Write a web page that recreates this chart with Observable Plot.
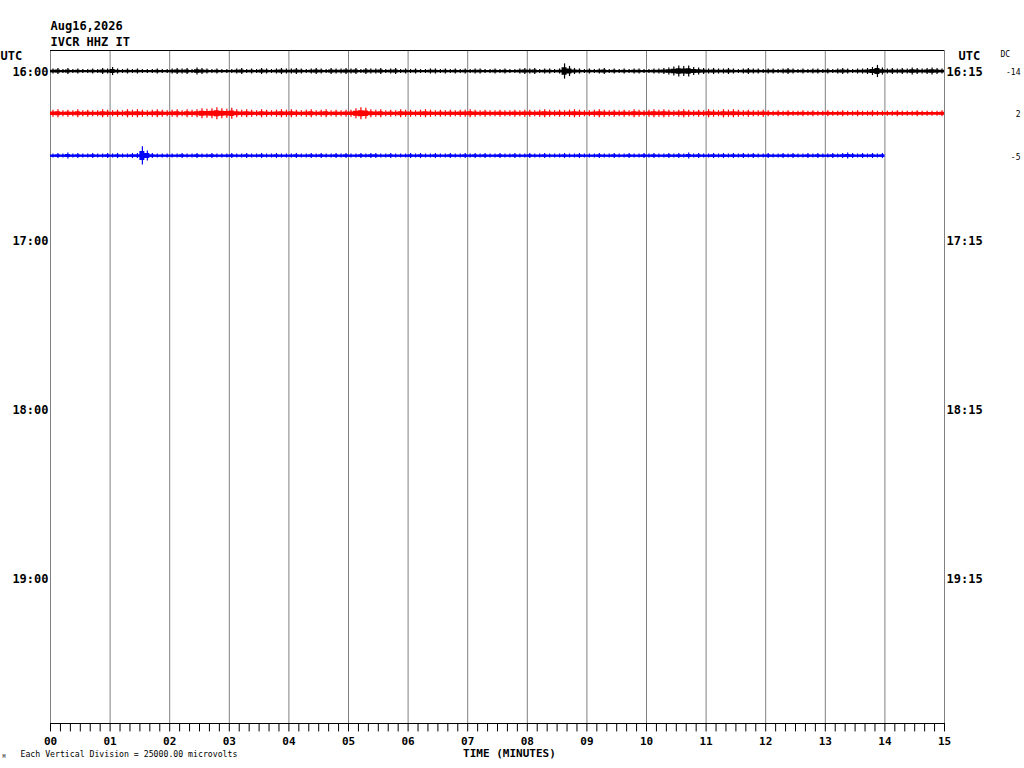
<!DOCTYPE html>
<html>
<head>
<meta charset="utf-8">
<script src="https://cdn.jsdelivr.net/npm/d3@7"></script>
<script src="https://cdn.jsdelivr.net/npm/@observablehq/plot@0.6"></script>
<style>
  html, body { margin: 0; padding: 0; background: #fff; }
  #chart { width: 1024px; height: 768px; }
</style>
</head>
<body>
<div id="chart"></div>
<script>
// ---- text / labels ----
const dateLabel = "Aug16,2026";
const stationLabel = "IVCR HHZ IT";
const minuteLabels = ["00","01","02","03","04","05","06","07","08","09","10","11","12","13","14","15"];
const hourRows = [0, 4, 8, 12];
const leftHourLabels = ["16:00", "17:00", "18:00", "19:00"];
const rightHourLabels = ["16:15", "17:15", "18:15", "19:15"];
const traceRows = [0, 1, 2];
const traceColors = ["#000000", "#ff0000", "#0000ff"];
const dcLabels = ["-14", "2", "-5"];
const divisionMicrovolts = 25000;
const binSeconds = 5;

// ---- trace envelopes: peak deflection (microvolts) per 5-second bin ----
const trace0 = [
  1500,1800,1200,1800,1200,1500,1200,1200,1500,1200,1800,1500,
  2400,1500,1200,1500,1200,1500,1200,1200,1200,1500,1200,1200,
  1500,1800,1500,1800,1200,2100,1800,1500,1200,1500,1200,1200,
  1200,1500,1800,1200,1500,1200,1800,1500,1200,1500,1800,1500,
  1500,1800,1500,1200,1500,1800,1500,1200,1800,1500,1500,1800,
  1500,1800,1200,1800,1500,1500,1800,1200,1500,1800,1200,1500,
  1200,1500,1200,1200,1500,1500,1200,1500,1200,1500,1200,1500,
  1200,1500,1500,1200,1200,1500,1200,1500,1200,1200,1500,1800,
  1500,1800,1200,1500,1500,1200,1500,4500,3000,1800,1500,1200,
  1500,1200,1500,1800,1200,1500,1200,1500,1200,1500,1500,1200,
  1200,1500,1500,1800,2100,2700,3300,3000,3300,2400,2100,1800,
  1500,1800,1500,1500,1800,1500,1200,1500,1800,1500,1500,1200,
  1500,1500,1200,1500,1800,1500,1200,1500,1200,1500,1500,1200,
  1500,1200,1500,1800,1500,1200,1500,1500,1800,2400,3600,2100,
  1500,1800,1500,1800,1500,2100,1800,1500,1800,2100,1800,1500
];
const trace1 = [
  2100,2400,1800,2100,1800,2400,1800,2100,1800,1800,2400,2100,
  1800,2100,1800,2400,2100,2400,2100,1800,2100,2400,2100,1800,
  2100,2400,1800,2400,2100,2400,3000,2700,3000,3600,3000,2700,
  3300,2400,2100,2400,2100,1800,2400,2100,1800,2100,2400,2100,
  2400,2100,1800,2100,2400,1800,2100,2400,1800,2100,1800,2100,
  2100,3000,3600,3300,2400,2100,2400,1800,2100,1800,2400,2100,
  2100,1800,2100,2400,2100,1800,2100,1800,2100,1800,2100,2100,
  2400,2100,1800,2100,1800,1800,2100,1800,1800,2100,1800,2100,
  2100,1800,2100,2400,2100,1800,2100,1800,2100,2400,2100,1800,
  1800,2100,2400,2100,1800,2100,1800,2100,1800,2400,2100,1800,
  2100,2400,2100,2400,2100,1800,2100,2400,2100,1800,2100,1800,
  2400,2100,1800,2400,2100,2400,2100,1800,2100,1800,1800,2100,
  1800,1500,1800,1500,1800,1500,1500,1800,1500,1800,1500,1500,
  1800,1500,1500,1800,1500,1500,1800,1500,1500,1800,1500,1500,
  1500,1500,1800,1500,1500,1500,1800,1500,1500,1500,1500,1800
];
const trace2 = [
  1200,1500,1200,1800,1200,1500,1200,1200,1500,1200,1200,1500,
  1200,1500,1200,1200,1500,1500,5400,3000,1500,1200,1200,1200,
  1200,1200,1500,1200,1200,1500,1200,1200,1500,1200,1200,1200,
  1500,1200,1200,1500,1200,1200,1500,1200,1200,1500,1200,1200,
  1200,1500,1200,1200,1500,1200,1500,1200,1200,1500,1200,1500,
  1200,1200,1500,1200,1500,1500,1200,1200,1500,1200,1200,1200,
  1500,1200,1500,1200,1200,1500,1200,1200,1500,1200,1200,1500,
  1200,1500,1200,1500,1200,1200,1500,1200,1200,1500,1200,1200,
  1500,1200,1200,1500,1200,1200,1200,1500,1200,1200,1500,1200,
  1200,1200,1500,1200,1200,1500,1200,1200,1500,1200,1200,1500,
  1200,1500,1200,1200,1500,1200,1500,1200,1800,1200,1500,1200,
  1200,1500,1200,1500,1200,1500,1200,1500,1200,1500,1200,1200,
  1500,1200,1200,1500,1200,1500,1200,1200,1500,1200,1500,1200,
  1200,1500,1200,1500,1800,1500,1200,1500,1200,1500,1200,1500
];
const traces = [trace0, trace1, trace2];

// ---- build tables ----
const minuteTicks = d3.range(0, 16);
const tenSecondTicks = d3.range(0, 15 * 6 + 1).map(i => i / 6);
const yTop = -0.497, yBottom = 15.432;

const bins = [];
const baselines = [];
traces.forEach((arr, k) => {
  const row = traceRows[k];
  arr.forEach((amp, i) => {
    bins.push({t: (i + 0.5) * binSeconds / 60, t0: i * binSeconds / 60, trace: k, row, amp, color: traceColors[k]});
  });
  // closing point so the step envelope covers the last bin
  bins.push({t: null, t0: arr.length * binSeconds / 60, trace: k, row, amp: arr[arr.length - 1], color: traceColors[k]});
  baselines.push({row, end: arr.length * binSeconds / 60, color: traceColors[k]});
});
const peaks = bins.filter(d => d.t !== null);

const mono = "'DejaVu Sans Mono', 'Liberation Mono', monospace";

const chart = Plot.plot({
  width: 1024,
  height: 768,
  marginLeft: 50,
  marginRight: 80,
  marginTop: 50,
  marginBottom: 45,
  x: {domain: [0, 15], axis: null},
  y: {domain: [yTop, yBottom], reverse: true, axis: null},
  color: {type: "identity"},
  style: {fontFamily: mono, fontSize: "12px", fontWeight: "bold", background: "#fff", overflow: "visible"},
  marks: [
    Plot.ruleX(minuteTicks, {x: d => d, stroke: "#808080", strokeWidth: 1}),
    Plot.ruleY([yTop, yBottom], {y: d => d, x1: 0, x2: 15, stroke: "#000"}),
    Plot.ruleX(tenSecondTicks, {x: d => d, y1: yBottom, y2: yBottom + 0.2, stroke: "#000"}),
    // trace body: envelope band at half of the bin peak
    Plot.areaY(bins, {
      x: "t0",
      y1: d => d.row - d.amp / divisionMicrovolts / 2,
      y2: d => d.row + d.amp / divisionMicrovolts / 2,
      z: "trace",
      fill: "color",
      curve: "step-after"
    }),
    Plot.ruleY(baselines, {y: "row", x1: 0, x2: "end", stroke: "color", strokeWidth: 1.5}),
    // peaks per bin
    Plot.ruleX(peaks, {
      x: "t",
      y1: d => d.row - d.amp / divisionMicrovolts,
      y2: d => d.row + d.amp / divisionMicrovolts,
      stroke: "color",
      strokeWidth: 1.2
    }),
    // minute labels
    Plot.text(minuteTicks, {x: d => d, text: (d, i) => minuteLabels[i], frameAnchor: "bottom", lineAnchor: "middle", dy: 18, fontSize: 11}),
    Plot.text(["TIME (MINUTES)"], {frameAnchor: "bottom", lineAnchor: "middle", x: 7.7, dy: 30, fontSize: 11}),
    Plot.text(["Each Vertical Division = 25000.00 microvolts"], {frameAnchor: "bottom-left", lineAnchor: "middle", dx: -30, dy: 31, textAnchor: "start", fontSize: 8.2, fontWeight: "normal"}),
    Plot.text(["M"], {frameAnchor: "bottom-left", lineAnchor: "middle", dx: -48, dy: 33, textAnchor: "start", fontSize: 5, fontWeight: "normal"}),
    // hour labels
    Plot.text(hourRows, {x: 0, y: d => d, text: (d, i) => leftHourLabels[i], dx: -2, dy: 1, textAnchor: "end"}),
    Plot.text(hourRows, {x: 15, y: d => d, text: (d, i) => rightHourLabels[i], dx: 2, dy: 1, textAnchor: "start"}),
    Plot.text(["UTC"], {frameAnchor: "top-left", lineAnchor: "middle", dx: -50, dy: 6, textAnchor: "start"}),
    Plot.text(["UTC"], {frameAnchor: "top-right", lineAnchor: "middle", dx: 14, dy: 6, textAnchor: "start"}),
    Plot.text(["DC"], {frameAnchor: "top-right", lineAnchor: "middle", dx: 56, dy: 4, textAnchor: "start", fontSize: 8, fontWeight: "normal"}),
    Plot.text(traceRows, {x: 15, y: d => d, text: (d, i) => dcLabels[i], dx: 76, dy: 1, textAnchor: "end", fontSize: 8, fontWeight: "normal"}),
    // header
    Plot.text([dateLabel], {frameAnchor: "top-left", lineAnchor: "middle", dy: -24, textAnchor: "start"}),
    Plot.text([stationLabel], {frameAnchor: "top-left", lineAnchor: "middle", dy: -8, textAnchor: "start"})
  ]
});
document.getElementById("chart").appendChild(chart);
</script>
</body>
</html>
